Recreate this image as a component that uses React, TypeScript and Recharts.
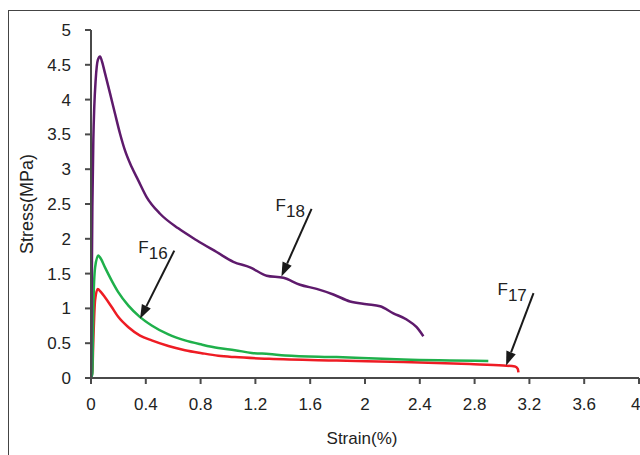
import { Line, LineChart, ReferenceLine, XAxis, YAxis } from "recharts";

type Pt = { x: number; y: number };

const toPts = (rows: number[][]): Pt[] => rows.map(([x, y]) => ({ x, y }));

// F18 (purple)
const f18 = toPts([
	[0, 0], [0.005, 1.2], [0.01, 2.46], [0.017, 3.42], [0.024, 3.9], [0.034, 4.28],
	[0.05, 4.57], [0.066, 4.62], [0.08, 4.55], [0.102, 4.38], [0.139, 4.09],
	[0.175, 3.8], [0.212, 3.51], [0.248, 3.27], [0.297, 3.03], [0.345, 2.84],
	[0.406, 2.6], [0.504, 2.36], [0.637, 2.15], [0.771, 1.98], [0.917, 1.81],
	[1.039, 1.67], [1.161, 1.59], [1.282, 1.47], [1.404, 1.44], [1.526, 1.34],
	[1.647, 1.28], [1.769, 1.2], [1.891, 1.1], [2.012, 1.06], [2.11, 1.03],
	[2.207, 0.93], [2.304, 0.84], [2.377, 0.73], [2.426, 0.6],
]);

// F16 (green)
const f16 = toPts([
	[0, 0], [0.01, 0.06], [0.017, 1.02], [0.03, 1.59], [0.053, 1.76], [0.07, 1.72],
	[0.102, 1.59], [0.151, 1.4], [0.2, 1.23], [0.273, 1.04], [0.358, 0.875],
	[0.443, 0.755], [0.565, 0.626], [0.686, 0.54], [0.808, 0.48], [0.929, 0.43],
	[1.05, 0.4], [1.172, 0.36], [1.3, 0.345], [1.416, 0.325], [1.793, 0.3],
	[2.28, 0.265], [2.9, 0.245],
]);

// F17 (red)
const f17 = toPts([
	[0, 0], [0.01, 0.1], [0.017, 0.54], [0.03, 1.12], [0.049, 1.28], [0.07, 1.24],
	[0.102, 1.16], [0.151, 1.02], [0.2, 0.875], [0.273, 0.73], [0.358, 0.61],
	[0.443, 0.54], [0.565, 0.46], [0.686, 0.4], [0.808, 0.357], [0.929, 0.32],
	[1.05, 0.3], [1.3, 0.275], [1.793, 0.25], [2.28, 0.23], [2.766, 0.2],
	[3.01, 0.18], [3.095, 0.165], [3.115, 0.13], [3.12, 0.08],
]);

const xTicks = [0, 0.4, 0.8, 1.2, 1.6, 2, 2.4, 2.8, 3.2, 3.6, 4];
const yTicks = [0, 0.5, 1, 1.5, 2, 2.5, 3, 3.5, 4, 4.5, 5];

// arrow annotations: from (x1,y1) to tip (x2,y2)
const annotations = [
	{ sub: "18", x1: 1.61, y1: 2.43, x2: 1.39, y2: 1.46 },
	{ sub: "16", x1: 0.608, y1: 1.83, x2: 0.358, y2: 0.85 },
	{ sub: "17", x1: 3.23, y1: 1.22, x2: 3.03, y2: 0.18 },
];

const FONT = "'Liberation Sans', Arial, sans-serif";
const AXIS = "#4a4a4a";

function Arrow(props: any) {
	const { x1, y1, x2, y2, sub } = props;
	const ang = Math.atan2(y2 - y1, x2 - x1);
	const len = 14;
	const hw = 5;
	const bx = x2 - len * Math.cos(ang);
	const by = y2 - len * Math.sin(ang);
	const px = -Math.sin(ang) * hw;
	const py = Math.cos(ang) * hw;
	return (
		<g>
			<line x1={x1} y1={y1} x2={bx} y2={by} stroke="#1a1a1a" strokeWidth={2} />
			<polygon
				points={`${x2},${y2} ${bx + px},${by + py} ${bx - px},${by - py}`}
				fill="#1a1a1a"
			/>
			<text x={x1 - 36} y={y1 + 2} fontFamily={FONT} fontSize={17} fill="#222">
				F
				<tspan dy={6}>{sub}</tspan>
			</text>
		</g>
	);
}

function XTitle(props: any) {
	const { x, y, width } = props.viewBox;
	return (
		<text
			x={x + width / 2 - 3}
			y={y + 66}
			textAnchor="middle"
			fontFamily={FONT}
			fontSize={17}
			fill="#222"
		>
			Strain(%)
		</text>
	);
}

function YTitle(props: any) {
	const { x, y, height } = props.viewBox;
	const cx = x + 27;
	const cy = y + height / 2;
	return (
		<text
			x={cx}
			y={cy}
			transform={`rotate(-90, ${cx}, ${cy})`}
			textAnchor="middle"
			dominantBaseline="central"
			fontFamily={FONT}
			fontSize={18}
			fill="#222"
		>
			Stress(MPa)
		</text>
	);
}

export default function App() {
	return (
		<div
			style={{
				position: "absolute",
				left: 0,
				top: 0,
				width: 640,
				height: 455,
				overflow: "hidden",
				background: "#fff",
			}}
		>
			<div
				style={{
					position: "absolute",
					left: 8,
					top: 10,
					width: 700,
					height: 500,
					border: "1px solid #444",
				}}
			/>
			<div style={{ position: "absolute", left: 0, top: 0 }}>
				<LineChart
					width={640}
					height={455}
					margin={{ top: 30, right: 1, left: 0, bottom: 0 }}
					style={{ overflow: "visible" }}
				>
					<XAxis
						dataKey="x"
						type="number"
						domain={[0, 4]}
						ticks={xTicks}
						allowDataOverflow
						height={77}
						tickSize={6}
						tickMargin={14}
						tick={{ fontSize: 17, fill: "#222", fontFamily: FONT }}
						axisLine={{ stroke: AXIS, strokeWidth: 2 }}
						tickLine={{ stroke: AXIS, strokeWidth: 2 }}
						label={<XTitle />}
					/>
					<YAxis
						dataKey="y"
						type="number"
						domain={[0, 5]}
						ticks={yTicks}
						width={91}
						tickSize={6}
						tickMargin={14}
						tick={{ fontSize: 17, fill: "#222", fontFamily: FONT }}
						axisLine={{ stroke: AXIS, strokeWidth: 2 }}
						tickLine={{ stroke: AXIS, strokeWidth: 2 }}
						label={<YTitle />}
					/>
					<Line
						data={f17}
						dataKey="y"
						stroke="#ee1c24"
						strokeWidth={2.5}
						dot={false}
						type="monotone"
						isAnimationActive={false}
					/>
					<Line
						data={f16}
						dataKey="y"
						stroke="#1fb04b"
						strokeWidth={2.5}
						dot={false}
						type="monotone"
						isAnimationActive={false}
					/>
					<Line
						data={f18}
						dataKey="y"
						stroke="#5e1a6c"
						strokeWidth={2.5}
						dot={false}
						type="monotone"
						isAnimationActive={false}
					/>
					{annotations.map((a) => (
						<ReferenceLine
							key={a.sub}
							segment={[
								{ x: a.x1, y: a.y1 },
								{ x: a.x2, y: a.y2 },
							]}
							ifOverflow="visible"
							shape={(p: any) => <Arrow {...p} sub={a.sub} />}
						/>
					))}
				</LineChart>
			</div>
		</div>
	);
}
